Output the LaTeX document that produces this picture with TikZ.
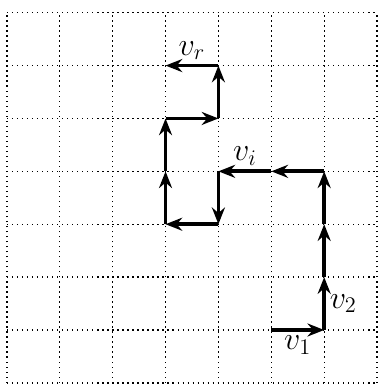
\documentclass[tikz,border=0pt]{standalone}
\usetikzlibrary{arrows.meta}

\begin{document}
\begin{tikzpicture}[>={Stealth[length=9pt,width=7pt,inset=3pt]},
  walk/.style={->, line width=2pt},
  lbl/.style={font=\fontsize{17}{20}\selectfont, inner sep=2pt}]
  \useasboundingbox (-0.13,-0.04) rectangle (7.02,7.24);
  \draw[dotted, line width=0.7pt] (0,0) grid (7,7);
  % points of the walk
  \coordinate (p1) at (5,1);
  \coordinate (p2) at (6,1);
  \coordinate (p3) at (6,2);
  \coordinate (p4) at (6,3);
  \coordinate (p5) at (6,4);
  \coordinate (p6) at (5,4);
  \coordinate (p7) at (4,4);
  \coordinate (p8) at (4,3);
  \coordinate (p9) at (3,3);
  \coordinate (p10) at (3,4);
  \coordinate (p11) at (3,5);
  \coordinate (p12) at (4,5);
  \coordinate (p13) at (4,6);
  \coordinate (p14) at (3,6);
  \path[walk]
    (p1) edge node[lbl, below] {$v_1$} (p2)
    (p2) edge node[lbl, right] {$v_2$} (p3)
    (p3) edge (p4)
    (p4) edge (p5)
    (p5) edge (p6)
    (p6) edge node[lbl, above] {$v_i$} (p7)
    (p7) edge (p8)
    (p8) edge (p9)
    (p9) edge (p10)
    (p10) edge (p11)
    (p11) edge (p12)
    (p12) edge (p13)
    (p13) edge node[lbl, above] {$v_r$} (p14);
\end{tikzpicture}
\end{document}
